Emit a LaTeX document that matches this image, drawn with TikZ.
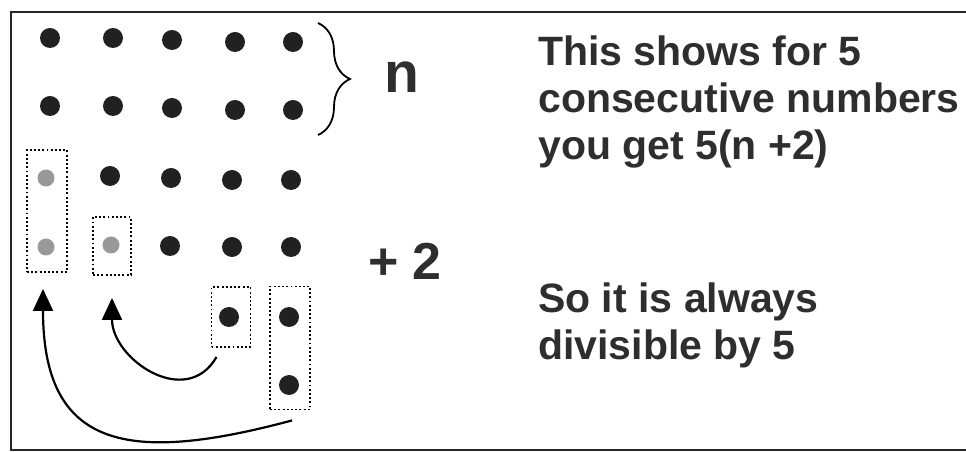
\documentclass[tikz,border=0pt]{standalone}
\usepackage{fontspec}
\setmainfont{Liberation Sans}
\usetikzlibrary{arrows.meta,decorations.pathreplacing}

\begin{document}
\begin{tikzpicture}[x=1pt, y=1pt]
      \tikzset{bead/.style={circle,fill=black!87,inner sep=0pt,minimum size=20pt},
        grey bead/.style={circle,fill=black!40,inner sep=0pt,minimum size=17pt},
        dot box/.style={draw,line width=1.9pt,dash pattern=on 1.9pt off 2.3pt,inner sep=0pt},
        curve arrow/.style={line width=2.2pt,-{Triangle[length=22pt,width=20pt]}},
        big label/.style={font=\bfseries\fontsize{57}{60}\selectfont,text=black!82,inner sep=0pt,anchor=base west},
        side text/.style={font=\bfseries\fontsize{41}{47}\selectfont,text=black!82,inner sep=0pt,anchor=base west,align=left}}
      \useasboundingbox (0,0) rectangle (966,452);

      % Frame, open on the right
      \draw[line width=2.6pt, black!85] (966,440) -- (11,440) -- (11,2) -- (966,2);

      % Top two rows: the n beads
      \node[bead] (r1c1) at (50,414) {};
      \node[bead] (r1c2) at (113,414) {};
      \node[bead] (r1c3) at (172,412) {};
      \node[bead] (r1c4) at (235,410) {};
      \node[bead] (r1c5) at (293,410) {};
      \node[bead] (r2c1) at (50,346) {};
      \node[bead] (r2c2) at (113,346) {};
      \node[bead] (r2c3) at (172,344) {};
      \node[bead] (r2c4) at (235,342) {};
      \node[bead] (r2c5) at (293,342) {};

      % Third and fourth rows, with the moved-in grey beads
      \node[grey bead] (g3c1) at (46,274) {};
      \node[bead] (r3c2) at (110,276) {};
      \node[bead] (r3c3) at (171,274) {};
      \node[bead] (r3c4) at (232,272) {};
      \node[bead] (r3c5) at (291,272) {};
      \node[grey bead] (g4c1) at (46,205) {};
      \node[grey bead] (g4c2) at (111,207) {};
      \node[bead] (r4c3) at (170,206) {};
      \node[bead] (r4c4) at (232,205) {};
      \node[bead] (r4c5) at (291,205) {};

      % Extra beads that get moved up
      \node[bead] (x1) at (229,135) {};
      \node[bead] (x2) at (289,135) {};
      \node[bead] (x3) at (289,67) {};

      % Dotted boxes
      \node[dot box, minimum width=40pt, minimum height=122pt] (boxA) at (47,241) {};
      \node[dot box, minimum width=38pt, minimum height=58pt] (boxB) at (112,206) {};
      \node[dot box, minimum width=39pt, minimum height=60pt] (boxC) at (231,135) {};
      \node[dot box, minimum width=40pt, minimum height=123pt] (boxD) at (290,104) {};

      % Curved arrows into the gaps
      \draw[curve arrow] ([xshift=6pt,yshift=-9pt]boxC.south west) to[out=-120,in=-90,looseness=1.3] ([yshift=-22pt]boxB.south);
      \draw[curve arrow] ([xshift=2pt,yshift=-10pt]boxD.south) to[out=-165,in=-90,out distance=170pt,in distance=160pt] ([xshift=-4pt,yshift=-16pt]boxA.south);

      % Brace over the top two rows
      \draw[line width=1.8pt, decorate, decoration={brace, amplitude=32pt}] (318,429) -- (318,317);

      % Labels
      \node[big label] (nlab) at (384,359) {n};
      \node[big label, font=\bfseries\fontsize{52}{56}\selectfont] (plus) at (368,172) {+ 2};

      % Explanation text (anchored on the last line)
      \node[side text] (expl) at (538,292) {This shows for 5\\consecutive numbers\\you get 5(n +2)};
      \node[side text] (concl) at (538,92) {So it is always\\divisible by 5};
    \end{tikzpicture}
\end{document}
